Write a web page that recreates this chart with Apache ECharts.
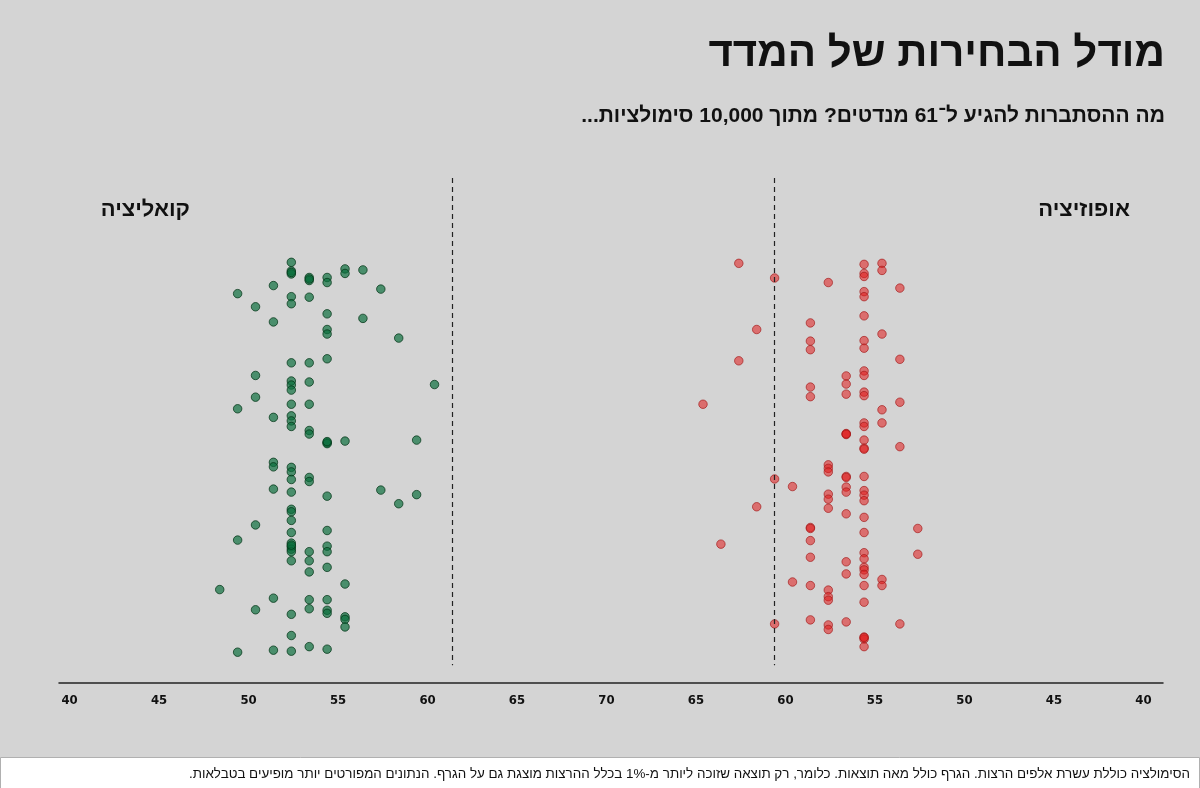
<!DOCTYPE html>
<html lang="he">
<head>
<meta charset="utf-8">
<script src="https://cdn.jsdelivr.net/npm/echarts@6/dist/echarts.min.js"></script>
<style>
html, body { margin: 0; padding: 0; background: #fff; }
#main { width: 1200px; height: 788px; direction: rtl; }
</style>
</head>
<body>
<div id="main" dir="rtl"></div>
<script>
// מנדטים לקואליציה בכל סימולציה (100 תוצאות), וגובה הפיזור האנכי
var coalitionSeats = [52,52,52,55,55,56,53,53,54,54,51,49,57,52,52,53,50,54,56,51,
	54,54,58,54,52,53,50,60,52,52,52,53,50,49,52,53,51,52,52,52,
	53,53,54,54,55,59,51,51,52,52,52,53,53,51,52,54,57,59,58,52,
	52,52,50,54,52,49,52,52,52,52,54,54,53,52,53,53,54,55,48,51,
	53,54,50,53,54,54,52,55,55,55,52,49,51,52,53,54,52,54,52,53];
var coalitionY = [83.3,81.6,81.0,82.0,81.1,81.8,80.3,79.7,80.3,79.3,78.7,77.1,78.0,76.5,75.1,76.4,74.5,73.1,72.2,71.5,
	70.0,69.1,68.3,64.2,63.4,63.4,60.9,59.1,59.8,59.0,58.0,59.6,56.6,54.3,55.2,55.2,52.6,52.9,51.9,50.8,
	50.0,49.3,47.6,47.4,47.9,48.1,43.7,42.8,42.7,41.8,40.3,40.7,39.9,38.4,37.8,37.0,38.2,37.3,35.5,34.4,
	33.9,32.2,31.3,30.2,29.8,28.3,27.7,27.0,26.5,26.0,27.1,26.0,26.0,24.2,24.2,22.0,22.9,19.6,18.5,16.8,
	16.5,16.5,14.5,14.7,14.4,13.8,13.6,13.1,12.6,11.1,9.4,6.1,6.5,6.3,7.2,6.7,81.3,47.8,27.3,80.0];

// מנדטים לאופוזיציה
var oppositionSeats = [63,61,58,56,56,56,55,55,54,56,56,56,59,62,55,59,59,56,56,63,
	54,56,56,57,57,57,59,59,56,56,65,54,55,55,56,56,57,57,56,56,
	56,54,61,60,58,58,58,57,57,56,57,57,56,56,56,58,58,62,58,57,
	56,59,59,53,56,64,59,59,56,56,53,57,56,56,56,57,55,55,60,59,
	58,58,58,56,56,61,59,58,58,57,54,56,56,56,56,57];
var oppositionY = [83.1,80.2,79.3,82.9,81.1,80.5,83.1,81.7,78.2,77.5,76.5,72.7,71.3,70.0,69.1,67.7,66.0,67.8,66.3,63.8,
	64.1,61.8,60.9,60.8,59.2,57.2,58.6,56.7,57.6,56.9,55.2,55.6,54.1,51.5,51.5,50.8,49.4,49.2,48.1,46.5,
	46.3,46.8,40.4,38.9,43.2,42.5,41.8,40.9,40.7,40.9,38.8,37.8,38.1,37.2,36.1,37.4,36.4,34.9,34.6,33.5,
	32.8,30.8,30.6,30.6,29.8,27.5,28.2,24.9,25.8,24.6,25.5,24.0,22.9,22.4,21.5,21.6,20.5,19.3,20.0,19.3,
	18.4,17.1,16.4,19.3,16.0,11.7,12.5,11.5,10.6,12.1,11.7,9.1,8.7,7.2,9.0,49.3];

// ציר משותף: צד שמאל 40..70, צד ימין מראה 70..40
var tickValues = [40,45,50,55,60,65,70,75,80,85,90,95,100];
var threshold = 61;

var hebFont = '"Liberation Sans", "DejaVu Sans", sans-serif';

var myChart = echarts.init(document.getElementById('main'));

var coalitionData = coalitionSeats.map(function (s, i) { return [s, coalitionY[i]]; });
var oppositionData = oppositionSeats.map(function (s, i) { return [140 - s, oppositionY[i]]; });

var option = {
	backgroundColor: '#d4d4d4',
	animation: false,
	title: [
		{
			text: 'מודל הבחירות של המדד',
			right: 35, top: 33, padding: 0,
			textStyle: { fontFamily: hebFont, fontSize: 42, fontWeight: 'bold', color: '#111' }
		},
		{
			text: 'מה ההסתברות להגיע ל־61 מנדטים? מתוך 10,000 סימולציות...',
			right: 35, top: 106, padding: 0,
			textStyle: { fontFamily: hebFont, fontSize: 21, fontWeight: 'bold', color: '#111' }
		},
		{
			text: 'קואליציה',
			right: 1010, top: 199, padding: 0,
			textStyle: { fontFamily: hebFont, fontSize: 22, fontWeight: 'bold', color: '#111' }
		},
		{
			text: 'אופוזיציה',
			right: 70, top: 199, padding: 0,
			textStyle: { fontFamily: hebFont, fontSize: 22, fontWeight: 'bold', color: '#111' }
		}
	],
	grid: { left: 59, right: 37, top: 178, bottom: 105 },
	xAxis: {
		type: 'value',
		min: 39.02,
		max: 100.7,
		axisLine: { show: true, onZero: false, lineStyle: { color: '#222', width: 1.5 } },
		axisTick: { show: false },
		splitLine: { show: false },
		axisLabel: {
			customValues: tickValues,
			formatter: function (v) { return v <= 70 ? v : 140 - v; },
			margin: 11,
			padding: [0, 14, 0, 0],
			fontFamily: '"DejaVu Sans Condensed", "DejaVu Sans", sans-serif',
			fontSize: 13,
			fontWeight: 'bold',
			color: '#111'
		}
	},
	yAxis: { type: 'value', min: 0, max: 100, show: false },
	series: [
		{
			name: 'קואליציה',
			type: 'scatter',
			symbolSize: 8.5,
			itemStyle: { color: 'rgba(10,110,60,0.85)', borderColor: 'rgba(0,50,20,0.9)', borderWidth: 1 },
			data: coalitionData,
			markLine: {
				silent: true,
				symbol: 'none',
				label: { show: false },
				lineStyle: { color: '#222', type: [5, 4], width: 1.2 },
				data: [[{ coord: [threshold, 100] }, { coord: [threshold, 3.5] }]]
			}
		},
		{
			name: 'אופוזיציה',
			type: 'scatter',
			symbolSize: 8.5,
			itemStyle: { color: 'rgba(225,30,30,0.7)', borderColor: 'rgba(160,20,20,0.8)', borderWidth: 1 },
			data: oppositionData,
			markLine: {
				silent: true,
				symbol: 'none',
				label: { show: false },
				lineStyle: { color: '#222', type: [5, 4], width: 1.2 },
				data: [[{ coord: [140 - threshold, 100] }, { coord: [140 - threshold, 3.5] }]]
			}
		}
	],
	graphic: [
		{
			type: 'rect',
			shape: { x: 0.5, y: 757.5, width: 1199, height: 31 },
			style: { fill: '#fff', stroke: '#b0b0b0', lineWidth: 1 }
		},
		{
			type: 'text',
			x: 1190, y: 774,
			style: {
				text: 'הסימולציה כוללת עשרת אלפים הרצות. הגרף כולל מאה תוצאות. כלומר, רק תוצאה שזוכה ליותר מ-1% בכלל ההרצות מוצגת גם על הגרף. הנתונים המפורטים יותר מופיעים בטבלאות.',
				align: 'right',
				verticalAlign: 'middle',
				font: '13.4px "Liberation Sans", "DejaVu Sans", sans-serif',
				fill: '#111'
			}
		}
	]
};
myChart.setOption(option);
</script>
</body>
</html>
